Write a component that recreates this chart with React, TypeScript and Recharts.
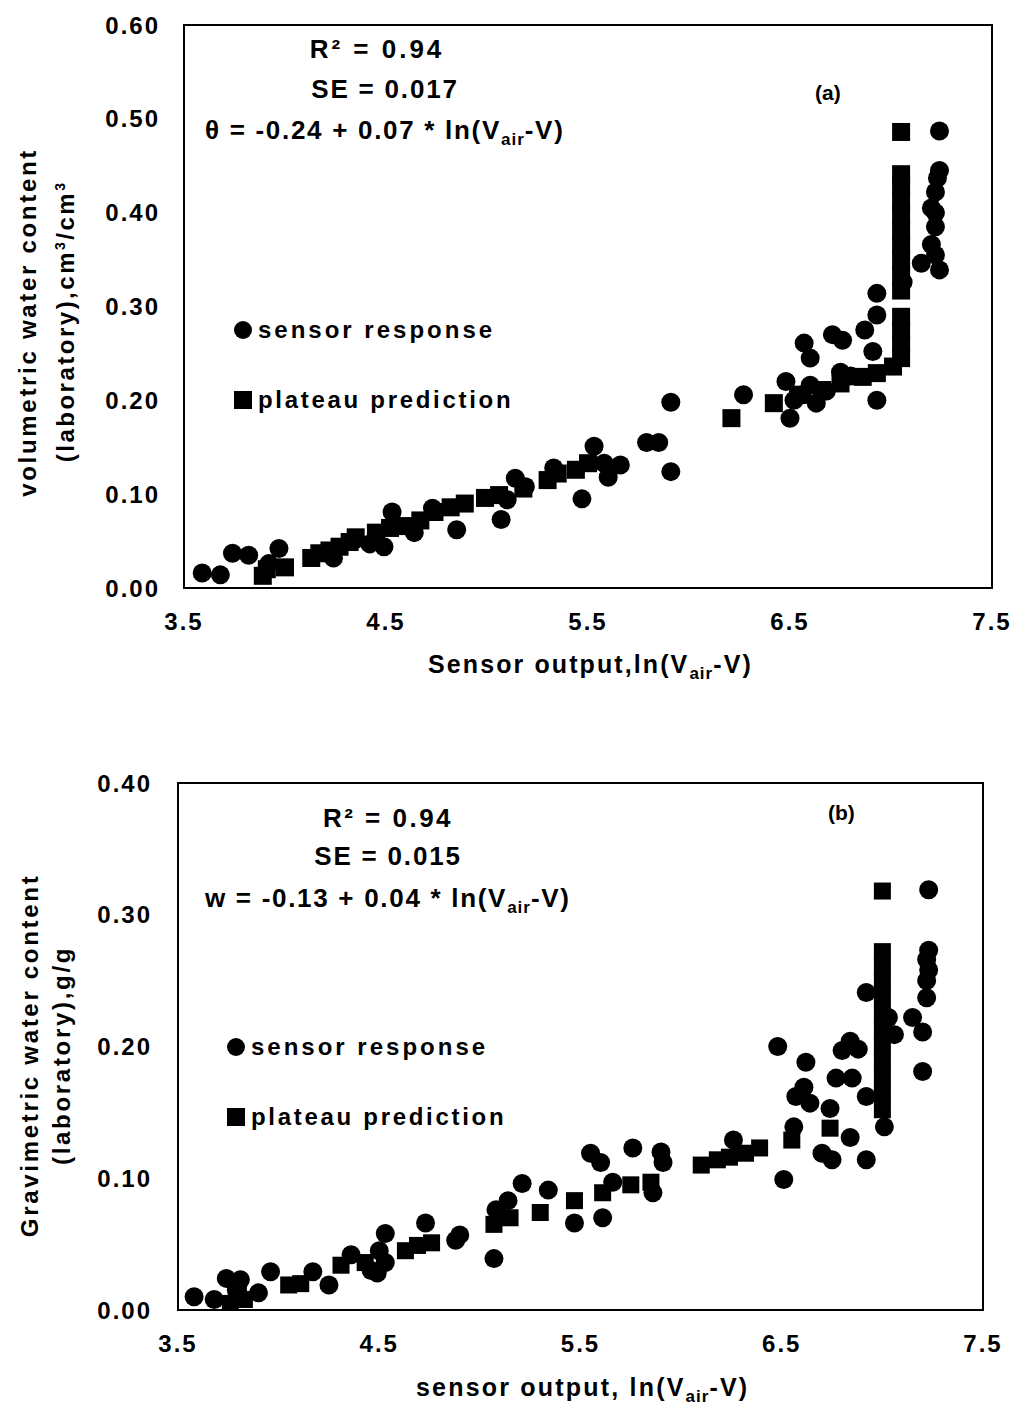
import React from 'react';
import { ScatterChart, Scatter, XAxis, YAxis, ReferenceArea } from 'recharts';

const FONT = '"Liberation Sans", Arial, sans-serif';

const xTicks = [3.5, 4.5, 5.5, 6.5, 7.5];
const yTicksA = [0, 0.1, 0.2, 0.3, 0.4, 0.5, 0.6];
const yTicksB = [0, 0.1, 0.2, 0.3, 0.4];

// (a) volumetric: sensor response (circles)
const sensorA: [number, number][] = [
  [3.59, 0.016], [3.68, 0.014], [3.74, 0.037], [3.82, 0.035], [3.97, 0.042], [3.92, 0.026],
  [4.24, 0.032], [4.35, 0.052], [4.42, 0.047], [4.45, 0.05], [4.49, 0.044], [4.53, 0.081],
  [4.64, 0.059], [4.73, 0.085], [4.85, 0.062], [5.07, 0.073], [5.1, 0.094], [5.14, 0.117],
  [5.19, 0.108], [5.33, 0.128], [5.47, 0.095], [5.53, 0.151], [5.58, 0.133], [5.6, 0.118],
  [5.66, 0.131], [5.79, 0.155], [5.85, 0.155], [5.91, 0.124], [5.91, 0.198],
  [6.27, 0.206], [6.48, 0.22], [6.5, 0.181], [6.52, 0.2], [6.56, 0.206], [6.57, 0.261],
  [6.6, 0.245], [6.6, 0.216], [6.63, 0.197], [6.68, 0.21], [6.71, 0.27], [6.76, 0.264],
  [6.75, 0.23], [6.8, 0.226], [6.87, 0.275], [6.91, 0.252], [6.93, 0.291], [6.93, 0.314],
  [6.93, 0.2], [7.06, 0.326], [7.15, 0.346], [7.24, 0.339], [7.22, 0.355], [7.2, 0.366],
  [7.22, 0.385], [7.22, 0.4], [7.2, 0.405], [7.22, 0.422], [7.23, 0.437], [7.24, 0.445],
  [7.24, 0.487],
];

// (a) plateau prediction (squares)
const plateauA: [number, number][] = [
  [3.89, 0.013], [3.91, 0.02], [4.0, 0.022], [4.13, 0.032], [4.17, 0.037], [4.22, 0.04],
  [4.27, 0.044], [4.32, 0.049], [4.35, 0.054], [4.45, 0.059], [4.52, 0.064], [4.6, 0.066],
  [4.67, 0.072], [4.74, 0.081], [4.82, 0.086], [4.89, 0.09], [4.99, 0.096], [5.06, 0.099],
  [5.18, 0.106], [5.3, 0.115], [5.35, 0.122], [5.44, 0.126], [5.5, 0.133],
  [6.21, 0.181], [6.42, 0.197], [6.54, 0.206], [6.66, 0.211], [6.75, 0.218], [6.86, 0.225],
  [6.93, 0.229], [7.01, 0.236],
  [7.05, 0.245], [7.05, 0.26], [7.05, 0.275], [7.05, 0.289],
  [7.05, 0.317], [7.05, 0.333], [7.05, 0.349], [7.05, 0.365], [7.05, 0.381], [7.05, 0.397],
  [7.05, 0.413], [7.05, 0.429], [7.05, 0.441], [7.05, 0.486],
];

// (b) gravimetric: sensor response (circles)
const sensorB: [number, number][] = [
  [3.58, 0.01], [3.68, 0.008], [3.74, 0.024], [3.81, 0.023], [3.79, 0.015], [3.9, 0.013],
  [3.96, 0.029], [4.17, 0.029], [4.25, 0.019], [4.36, 0.042], [4.46, 0.03], [4.49, 0.028],
  [4.5, 0.045], [4.53, 0.036], [4.53, 0.058], [4.73, 0.066], [4.88, 0.053], [4.9, 0.057],
  [5.07, 0.039], [5.08, 0.076], [5.14, 0.083], [5.21, 0.096], [5.34, 0.091], [5.47, 0.066],
  [5.55, 0.119], [5.6, 0.112], [5.61, 0.07], [5.66, 0.097], [5.76, 0.123], [5.86, 0.089],
  [5.9, 0.12], [5.91, 0.112], [6.26, 0.129], [6.48, 0.2], [6.51, 0.099], [6.56, 0.139],
  [6.57, 0.162], [6.61, 0.169], [6.62, 0.188], [6.64, 0.157], [6.7, 0.119], [6.74, 0.153],
  [6.75, 0.114], [6.77, 0.176], [6.8, 0.197], [6.84, 0.204], [6.84, 0.131], [6.85, 0.176],
  [6.88, 0.198], [6.92, 0.114], [6.92, 0.162], [6.92, 0.241], [7.01, 0.139], [7.03, 0.222],
  [7.06, 0.209], [7.15, 0.222], [7.2, 0.211], [7.2, 0.181], [7.22, 0.237], [7.22, 0.25],
  [7.23, 0.258], [7.22, 0.266], [7.23, 0.273], [7.23, 0.319],
];

// (b) plateau prediction (squares)
const plateauB: [number, number][] = [
  [3.76, 0.005], [3.83, 0.008], [3.8, 0.012], [4.05, 0.019], [4.11, 0.02], [4.31, 0.034],
  [4.43, 0.036], [4.63, 0.045], [4.69, 0.049], [4.76, 0.051], [5.07, 0.065], [5.15, 0.07],
  [5.3, 0.074], [5.47, 0.083], [5.61, 0.089], [5.75, 0.095], [5.85, 0.097], [6.1, 0.11],
  [6.18, 0.114], [6.24, 0.116], [6.32, 0.119], [6.39, 0.123], [6.55, 0.129], [6.74, 0.138],
  [7.0, 0.152], [7.0, 0.164], [7.0, 0.176], [7.0, 0.188], [7.0, 0.2], [7.0, 0.212],
  [7.0, 0.224], [7.0, 0.236], [7.0, 0.248], [7.0, 0.26], [7.0, 0.272], [7.0, 0.318],
];

const toRows = (pts: [number, number][]) => pts.map(([x, y]) => ({ x, y }));

const circleShape = (r: number) => (p: any) => <circle cx={p.cx} cy={p.cy} r={r} fill="#000" />;
const squareShape = (s: number) => (p: any) => (
  <rect x={p.cx - s / 2} y={p.cy - s / 2} width={s} height={s} fill="#000" />
);

const tickStyle = { fontFamily: FONT, fontSize: 24, fontWeight: 700, fill: '#000', letterSpacing: 2 };

const abs = (left: number, top: number, extra: React.CSSProperties = {}): React.CSSProperties => ({
  position: 'absolute', left, top, fontFamily: FONT, fontWeight: 700, color: '#000', whiteSpace: 'nowrap', ...extra,
});

const LegendBox = ({ left, top }: { left: number; top: number }) => (
  <div style={abs(left, top, { fontSize: 24 })}>
    <div style={{ display: 'flex', alignItems: 'center', height: 30 }}>
      <svg width={20} height={20}><circle cx={10} cy={10} r={9} fill="#000" /></svg>
      <span style={{ marginLeft: 5, letterSpacing: 3 }}>sensor response</span>
    </div>
    <div style={{ display: 'flex', alignItems: 'center', height: 30, marginTop: 40 }}>
      <svg width={20} height={20}><rect x={1} y={1} width={18} height={18} fill="#000" /></svg>
      <span style={{ marginLeft: 5, letterSpacing: 2.7 }}>plateau prediction</span>
    </div>
  </div>
);

const VLabel = ({ cx, cy, text, size, spacing }: { cx: number; cy: number; text: React.ReactNode; size: number; spacing: number }) => (
  <div style={abs(cx - 250, cy - size * 0.6, {
    width: 500, height: size * 1.2, lineHeight: `${size * 1.2}px`, textAlign: 'center', fontSize: size,
    transform: 'rotate(-90deg)', transformOrigin: '50% 50%', letterSpacing: spacing,
  })}>{text}</div>
);

const Sub = ({ children }: { children: React.ReactNode }) => (
  <sub style={{ fontSize: 17, letterSpacing: 1 }}>{children}</sub>
);

export default function App() {
  return (
    <div style={{ position: 'absolute', left: 0, top: 0, width: 1017, height: 1407, background: '#fff' }}>
      {/* Chart (a) */}
      <div style={{ position: 'absolute', left: 0, top: 0 }}>
        <ScatterChart width={1017} height={700} margin={{ top: 25, right: 25, bottom: 12, left: 0 }}>
          <XAxis type="number" dataKey="x" domain={[3.5, 7.5]} ticks={xTicks} allowDataOverflow
            height={100} tickSize={0} tickMargin={25} tickFormatter={(v: number) => v.toFixed(1)}
            tick={tickStyle} axisLine={{ stroke: '#000', strokeWidth: 2 }} tickLine={false} />
          <YAxis type="number" dataKey="y" domain={[0, 0.6]} ticks={yTicksA} allowDataOverflow
            width={184} tickSize={0} tickMargin={24} tickFormatter={(v: number) => v.toFixed(2)}
            tick={tickStyle} axisLine={{ stroke: '#000', strokeWidth: 2 }} tickLine={false} />
          <ReferenceArea x1={3.5} x2={7.5} y1={0} y2={0.6} fill="none" stroke="#000" strokeWidth={2} />
          <Scatter name="sensor response" data={toRows(sensorA)} shape={circleShape(9.5)} isAnimationActive={false} />
          <Scatter name="plateau prediction" data={toRows(plateauA)} shape={squareShape(18)} isAnimationActive={false} />
        </ScatterChart>
      </div>
      <LegendBox left={233} top={315} />
      <div style={abs(377 - 150, 34, { width: 300, textAlign: 'center', fontSize: 26, letterSpacing: 3 })}>R² = 0.94</div>
      <div style={abs(385 - 150, 74, { width: 300, textAlign: 'center', fontSize: 26, letterSpacing: 1.8 })}>SE = 0.017</div>
      <div style={abs(205, 115, { fontSize: 26, letterSpacing: 1.7 })}>θ = -0.24 + 0.07 * ln(V<Sub>air</Sub>-V)</div>
      <div style={abs(815, 81, { fontSize: 21 })}>(a)</div>
      <div style={abs(428, 650, { fontSize: 25, letterSpacing: 2.1 })}>Sensor output,ln(V<Sub>air</Sub>-V)</div>
      <VLabel cx={28} cy={322} size={24} spacing={2.7} text="volumetric water content" />
      <VLabel cx={60} cy={321} size={24} spacing={2.5} text={<span>(laboratory),cm<sup style={{ fontSize: 14 }}>3</sup>/cm<sup style={{ fontSize: 14 }}>3</sup></span>} />

      {/* Chart (b) */}
      <div style={{ position: 'absolute', left: 0, top: 760 }}>
        <ScatterChart width={1017} height={647} margin={{ top: 23, right: 34, bottom: 7, left: 0 }}>
          <XAxis type="number" dataKey="x" domain={[3.5, 7.5]} ticks={xTicks} allowDataOverflow
            height={90} tickSize={0} tickMargin={25} tickFormatter={(v: number) => v.toFixed(1)}
            tick={tickStyle} axisLine={{ stroke: '#000', strokeWidth: 2 }} tickLine={false} />
          <YAxis type="number" dataKey="y" domain={[0, 0.4]} ticks={yTicksB} allowDataOverflow
            width={178} tickSize={0} tickMargin={26} tickFormatter={(v: number) => v.toFixed(2)}
            tick={tickStyle} axisLine={{ stroke: '#000', strokeWidth: 2 }} tickLine={false} />
          <ReferenceArea x1={3.5} x2={7.5} y1={0} y2={0.4} fill="none" stroke="#000" strokeWidth={2} />
          <Scatter name="sensor response" data={toRows(sensorB)} shape={circleShape(9.5)} isAnimationActive={false} />
          <Scatter name="plateau prediction" data={toRows(plateauB)} shape={squareShape(17)} isAnimationActive={false} />
        </ScatterChart>
      </div>
      <LegendBox left={226} top={1032} />
      <div style={abs(388 - 150, 803, { width: 300, textAlign: 'center', fontSize: 26, letterSpacing: 2.5 })}>R² = 0.94</div>
      <div style={abs(388 - 150, 841, { width: 300, textAlign: 'center', fontSize: 26, letterSpacing: 1.8 })}>SE = 0.015</div>
      <div style={abs(205, 883, { fontSize: 26, letterSpacing: 1.7 })}>w = -0.13 + 0.04 * ln(V<Sub>air</Sub>-V)</div>
      <div style={abs(828, 801, { fontSize: 21 })}>(b)</div>
      <div style={abs(416, 1373, { fontSize: 25, letterSpacing: 2.2 })}>sensor output, ln(V<Sub>air</Sub>-V)</div>
      <VLabel cx={30} cy={1055} size={24} spacing={2.7} text="Gravimetric water content" />
      <VLabel cx={62} cy={1055} size={24} spacing={2.7} text="(laboratory),g/g" />
    </div>
  );
}
